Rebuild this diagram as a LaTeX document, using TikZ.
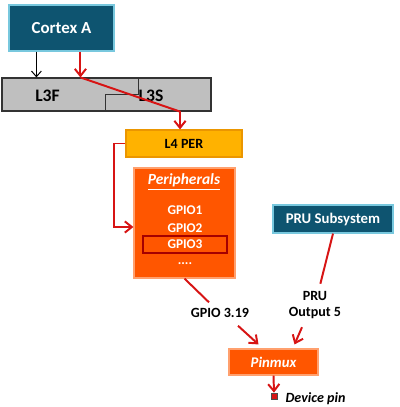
\documentclass[tikz,border=0pt]{standalone}
\usepackage{fontspec}
\setmainfont{Carlito}
\usetikzlibrary{calc}
\usetikzlibrary{positioning}
\usetikzlibrary{arrows.meta}
\definecolor{socblue}{RGB}{14,84,112}
\definecolor{socedge}{RGB}{120,200,222}
\definecolor{busgray}{RGB}{191,191,191}
\definecolor{l4amber}{RGB}{255,178,0}
\definecolor{l4edge}{RGB}{235,150,0}
\definecolor{perorange}{RGB}{255,86,0}
\definecolor{peredge}{RGB}{255,160,110}
\definecolor{pathred}{RGB}{215,20,20}
\definecolor{framered}{RGB}{165,0,0}

\begin{document}
\begin{tikzpicture}[x=0.025cm, y=-0.025cm,
  socbox/.style={draw=socedge, fill=socblue, text=white, line width=0.8pt, font=\bfseries},
  busbox/.style={draw=black!80, fill=busgray, line width=0.8pt},
  l4box/.style={draw=l4edge, fill=l4amber, line width=0.8pt, font=\bfseries\fontsize{10}{12}\selectfont},
  perbox/.style={draw=peredge, fill=perorange, line width=0.8pt},
  gpio/.style={text=white, inner sep=1pt, font=\bfseries\fontsize{9.5}{11}\selectfont},
  lbl/.style={align=center, inner sep=2pt, font=\bfseries\fontsize{10}{12}\selectfont},
  redpath/.style={draw=pathred, line width=1.4pt, -{Straight Barb[length=5pt,width=8pt]}},
  redline/.style={draw=pathred, line width=1.4pt}]
\useasboundingbox (0,0) rectangle (400,407);

\node[socbox, minimum width=2.625cm, minimum height=1.15cm, font=\bfseries\fontsize{12}{14}\selectfont] (cortex) at (61.5,28) {Cortex A};
\node[busbox, minimum width=5.225cm, minimum height=0.825cm] (l3) at (106.5,94.5) {};
\draw[black!80, line width=0.8pt] ($(l3.north west)+(137,0)$) -- ++(0,17) -| ($(l3.south west)+(104,0)$);
\node[font=\bfseries\fontsize{12.5}{14}\selectfont] (l3f) at (47.5,96) {L3F};
\node[font=\bfseries\fontsize{12.5}{14}\selectfont] (l3s) at (151,96) {L3S};
\node[l4box, minimum width=2.9cm, minimum height=0.675cm] (l4) at (184,143.5) {L4 PER};

\node[perbox, minimum width=2.525cm, minimum height=2.75cm] (periph) at (184.5,223) {};
\node[gpio, font=\bfseries\fontsize{11}{13}\selectfont] (pertitle) at (184,182) {\underline{\textit{Peripherals}}};
\node[gpio] (gpio1) at (185,210) {GPIO1};
\node[gpio] (gpio2) at (185,228) {GPIO2};
\node[gpio, draw=framered, line width=1.4pt, minimum width=2.1cm, minimum height=0.425cm] (gpio3) at (185,244.5) {GPIO3};
\node[gpio] (gpiomore) at (185,264) {....};

\node[socbox, minimum width=3cm, minimum height=0.7cm, font=\bfseries\fontsize{10.5}{13}\selectfont] (pru) at (333,219) {PRU Subsystem};
\node[lbl] (gpiolbl) at (220,313) {GPIO 3.19};
\node[lbl] (prulbl) at (315,305) {PRU\\Output 5};
\node[perbox, minimum width=2.225cm, minimum height=0.65cm, text=white, font=\bfseries\itshape\fontsize{10.5}{12}\selectfont] (pinmux) at (273.5,362) {Pinmux};
\node[draw=black!70, fill=pathred, minimum size=0.15cm, inner sep=0pt, line width=0.5pt] (pin) at (274,396) {};
\node[right=0.2cm of pin, yshift=-2pt, inner sep=0pt, font=\bfseries\itshape\fontsize{10}{12}\selectfont] (pinlbl) {Device pin};

\coordinate (blk) at ($(cortex.south west)+(28,0)$);
\coordinate (rin) at ($(cortex.south west)+(72,0)$);
\coordinate (rout) at ($(l4.north)+(-4,0)$);
\draw[line width=0.7pt, -{Straight Barb[length=4pt,width=7pt]}] (blk) -- (blk |- l3.north);
\draw[redpath] (rin) -- (rin |- l3.north);
\draw[redpath] (rin |- l3.north) -- (rout |- l3.south) -- (rout);
\draw[redpath] (l4.west) -- ++(-11,0) |- ($(periph.west)+(0,4)$);
\draw[redline, shorten >=3pt] (periph.south) -- (gpiolbl);
\draw[redpath] ($(gpiolbl.south)+(18,5)$) -- ($(pinmux.north)+(-15,-4)$);
\draw[redline, shorten >=3pt] (pru.south) -- (prulbl);
\draw[redpath] ($(prulbl.south)+(-13,5)$) -- ($(pinmux.north)+(21,-4)$);
\draw[redpath] (pinmux.south) -- (pin.north);
\end{tikzpicture}
\end{document}
